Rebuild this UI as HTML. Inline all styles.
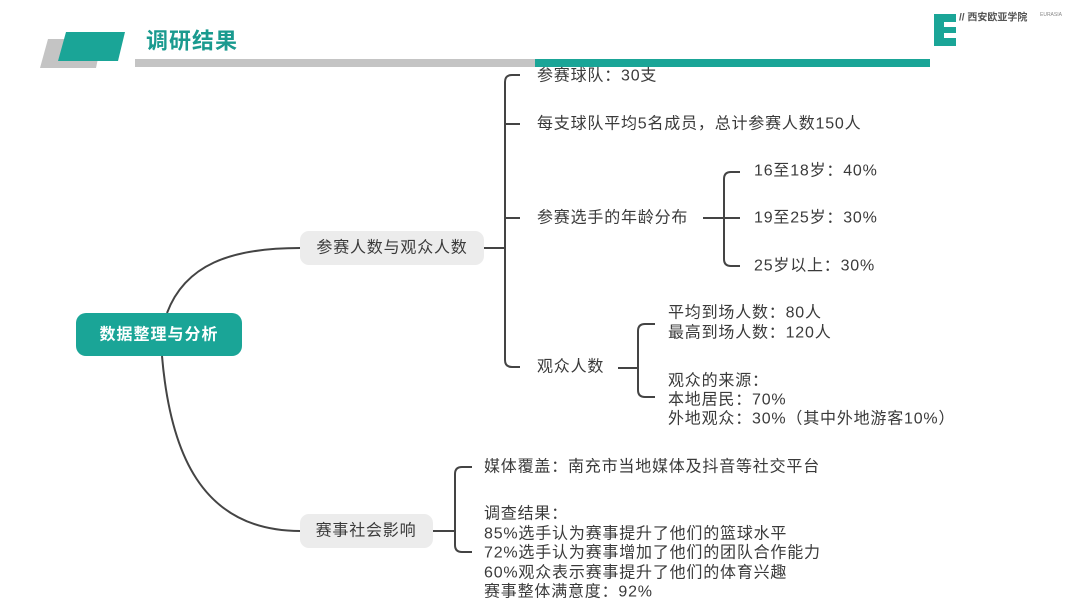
<!DOCTYPE html>
<html><head><meta charset="utf-8"><style>
body{margin:0;width:1080px;height:607px;background:#fff;overflow:hidden;font-family:"Liberation Sans","Noto Sans CJK SC",sans-serif}
svg{position:absolute;left:0;top:0}
text{font-family:"Liberation Sans","Noto Sans CJK SC",sans-serif;font-size:16px;letter-spacing:0.8px;fill:#3a3a3a;dominant-baseline:central}
</style></head><body>
<svg width="1080" height="607" viewBox="0 0 1080 607">
<polygon points="48,39 102,39 96,68 40,68" fill="#c4c4c4"/>
<polygon points="66,32 125,32 118,61 58,61" fill="#1aa597"/>
<text x="146" y="41" style="font-size:22px;letter-spacing:1px;font-weight:bold;fill:#1a9a8f">调研结果</text>
<rect x="135" y="59" width="400" height="8" fill="#c4c4c4"/>
<rect x="535" y="59" width="395" height="8" fill="#1aa597"/>
<rect x="934" y="14" width="22" height="32" fill="#1aa597"/>
<rect x="944" y="22" width="12" height="5" fill="#fff"/>
<rect x="944" y="33" width="12" height="5" fill="#fff"/>
<text x="959" y="18" style="font-size:10px;letter-spacing:0;fill:#555;font-weight:bold">// 西安欧亚学院</text>
<text x="1040" y="15" style="font-size:5px;letter-spacing:0;fill:#888">EURASIA</text>
<g fill="none" stroke="#444" stroke-width="2">
<path d="M167,313 C185,265 230,248 300,248"/>
<path d="M162,356 C170,450 200,531 300,531"/>
<path d="M484,248 H505 M520,75 H512 Q505,75 505,82 V360 Q505,367 512,367 H520 M505,124 H520 M505,218 H520"/>
<path d="M703,218 H740 M740,172 H731 Q724,172 724,179 V259 Q724,266 731,266 H740"/>
<path d="M618,368 H638 M655,324 H645 Q638,324 638,331 V390 Q638,397 645,397 H655"/>
<path d="M433,531 H455 M472,467 H462 Q455,467 455,474 V545 Q455,552 462,552 H472"/>
</g>
<rect x="76" y="313" width="166" height="43" rx="10" fill="#1aa597"/>
<text x="159" y="335" text-anchor="middle" style="font-weight:bold;fill:#fff;font-size:16px;letter-spacing:1px">数据整理与分析</text>
<rect x="300" y="231" width="184" height="34" rx="9" fill="#ececec"/>
<text x="392" y="248" text-anchor="middle">参赛人数与观众人数</text>
<rect x="300" y="514" width="133" height="34" rx="9" fill="#ececec"/>
<text x="366" y="531" text-anchor="middle">赛事社会影响</text>
<text x="537" y="76">参赛球队：30支</text>
<text x="537" y="124">每支球队平均5名成员，总计参赛人数150人</text>
<text x="537" y="218">参赛选手的年龄分布</text>
<text x="537" y="367">观众人数</text>
<text x="754" y="171">16至18岁：40%</text>
<text x="754" y="218">19至25岁：30%</text>
<text x="754" y="266">25岁以上：30%</text>
<text x="668" y="313">平均到场人数：80人</text>
<text x="668" y="333">最高到场人数：120人</text>
<text x="668" y="381">观众的来源：</text>
<text x="668" y="400">本地居民：70%</text>
<text x="668" y="419">外地观众：30%（其中外地游客10%）</text>
<text x="484" y="467">媒体覆盖：南充市当地媒体及抖音等社交平台</text>
<text x="484" y="514">调查结果：</text>
<text x="484" y="534">85%选手认为赛事提升了他们的篮球水平</text>
<text x="484" y="553">72%选手认为赛事增加了他们的团队合作能力</text>
<text x="484" y="573">60%观众表示赛事提升了他们的体育兴趣</text>
<text x="484" y="592">赛事整体满意度：92%</text>
</svg>
</body></html>
